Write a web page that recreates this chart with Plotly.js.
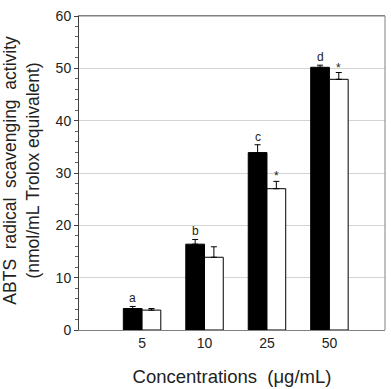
<!DOCTYPE html>
<html>
<head>
<meta charset="utf-8">
<script src="https://cdn.plot.ly/plotly-3.0.1.min.js"></script>
<style>html,body{margin:0;padding:0;background:#fff;}#chart{width:391px;height:389px;}</style>
</head>
<body>
<div id="chart"></div>
<script>
const categories = ["5", "10", "25", "50"];
const blackValues = [4.1, 16.4, 33.9, 50.2];
const blackErr = [0.4, 0.9, 1.5, 0.4];
const whiteValues = [3.8, 13.9, 27.0, 47.9];
const whiteErr = [0.3, 2.0, 1.4, 1.3];
const blackLabels = ["a", "b", "c", "d"];
const whiteLabels = ["", "", "*", "*"];
const yTicks = [0, 10, 20, 30, 40, 50, 60];

const idx = categories.map((c, i) => i);
const FONT = "Liberation Sans, Arial, sans-serif";
const SP = "\u00A0";

const traces = [
  {
    type: "bar", x: idx, y: blackValues, name: "black",
    marker: {color: "#000000", line: {color: "#000000", width: 1}},
    error_y: {type: "data", symmetric: false, array: blackErr, arrayminus: blackErr.map(() => 0),
              color: "#000000", thickness: 1, width: 3}
  },
  {
    type: "bar", x: idx, y: whiteValues, name: "white",
    marker: {color: "#ffffff", line: {color: "#000000", width: 1}},
    error_y: {type: "data", symmetric: false, array: whiteErr, arrayminus: whiteErr.map(() => 0),
              color: "#000000", thickness: 1, width: 3}
  }
];

const annotations = [];
idx.forEach(i => {
  if (blackLabels[i]) annotations.push({
    x: i - 0.15, y: blackValues[i] + blackErr[i], xref: "x", yref: "y",
    text: blackLabels[i], showarrow: false, yanchor: "middle", yshift: 8,
    font: {family: FONT, size: 12, color: "#222"}
  });
  if (whiteLabels[i]) annotations.push({
    x: i + 0.15, y: whiteValues[i] + whiteErr[i], xref: "x", yref: "y",
    text: whiteLabels[i], showarrow: false, yanchor: "middle", yshift: 5,
    font: {family: FONT, size: 12, color: "#222"}
  });
});
annotations.push({
  xref: "paper", yref: "paper", x: -0.188, y: 0.509,
  text: "ABTS" + SP + SP + "radical" + SP + SP + "scavenging" + SP + SP + "activity<br>(nmol/mL" + SP + "Trolox" + SP + "equivalent)",
  textangle: -90, showarrow: false, xanchor: "center", yanchor: "middle",
  font: {family: FONT, size: 17.5, color: "#222"}
});

const layout = {
  width: 391, height: 389,
  margin: {l: 79, r: 6, t: 16, b: 59, pad: 0},
  paper_bgcolor: "#ffffff", plot_bgcolor: "#ffffff",
  showlegend: false,
  barmode: "group", bargap: 0.4, bargroupgap: 0,
  font: {family: FONT, color: "#222"},
  xaxis: {
    range: [-1.01, 3.89], tickvals: idx, ticktext: categories,
    showgrid: false, zeroline: false, showline: true, linecolor: "#808080", linewidth: 1,
    mirror: true, ticks: "", tickfont: {family: FONT, size: 14, color: "#222"},
    title: {text: "Concentrations" + SP + SP + "(μg/mL)", font: {family: FONT, size: 18.5, color: "#222"}, standoff: 20}
  },
  yaxis: {
    range: [0, 60], tickvals: yTicks, showgrid: true, gridcolor: "#d4d4d4", gridwidth: 1,
    zeroline: false, showline: true, linecolor: "#404040", linewidth: 1, mirror: false,
    ticks: "outside", ticklen: 4, tickcolor: "#404040",
    minor: {dtick: 2, ticks: "outside", ticklen: 3, tickcolor: "#606060", showgrid: false},
    tickfont: {family: FONT, size: 14, color: "#222"}
  },
  shapes: [
    {type: "line", xref: "paper", yref: "paper", x0: 0, x1: 1, y0: 1, y1: 1, line: {color: "#808080", width: 1}},
    {type: "line", xref: "paper", yref: "paper", x0: 1, x1: 1, y0: 0, y1: 1, line: {color: "#808080", width: 1}}
  ],
  annotations: annotations
};

Plotly.newPlot("chart", traces, layout, {displayModeBar: false, staticPlot: true});
</script>
</body>
</html>
